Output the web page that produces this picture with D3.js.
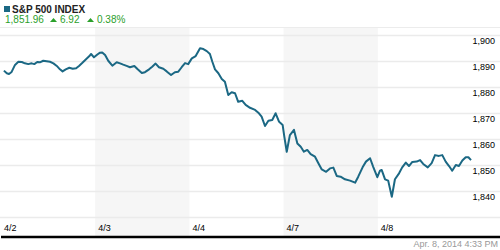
<!DOCTYPE html>
<html>
<head>
<meta charset="utf-8">
<script src="https://cdn.jsdelivr.net/npm/d3@7"></script>
<style>
  body { margin: 0; background: #fff; }
  svg { display: block; font-family: Arial, "Liberation Sans", sans-serif; }
</style>
</head>
<body>
<svg id="chart"></svg>
<script>
// trading sessions shown on the x axis
var sessions = ["4/2", "4/3", "4/4", "4/7", "4/8"];

// intraday readings: [minutes after the open, index level]
var apr2 = [[12,1886.3],[24,1885.3],[33,1885.0],[44,1885.8],[58,1888.5],[72,1889.7],[86,1889.6],
  [99,1889.1],[113,1888.8],[127,1889.1],[138,1888.8],[150,1889.6],[161,1889.5],[175,1890.1],
  [189,1889.9],[203,1889.7],[217,1889.1],[231,1888.1],[244,1886.8],[255,1886.0],[268,1886.8],
  [283,1887.4],[297,1887.0],[311,1887.2],[323,1888.1],[337,1889.3],[352,1890.7],[366,1891.9],
  [373,1892.7],[385,1891.4]];
var apr3 = [[9,1892.5],[20,1893.2],[29,1893.3],[41,1892.3],[54,1890.1],[71,1888.2],[89,1889.5],
  [103,1889.1],[116,1888.6],[130,1888.1],[144,1887.6],[162,1888.1],[176,1886.8],[193,1885.4],
  [206,1885.7],[223,1886.8],[236,1887.8],[250,1889.0],[264,1887.6],[282,1887.0],[296,1886.0],
  [314,1884.6],[330,1885.7],[344,1885.9],[358,1887.6],[372,1889.2],[385,1888.8]];
var apr4 = [[10,1891.0],[26,1891.9],[44,1894.9],[58,1894.6],[72,1893.8],[85,1892.7],[95,1889.7],
  [106,1886.8],[120,1885.3],[134,1883.1],[147,1882.0],[161,1876.9],[175,1878.0],[189,1877.6],
  [202,1874.3],[219,1874.7],[233,1873.1],[251,1872.0],[272,1871.2],[288,1869.9],[299,1868.6],
  [313,1865.0],[327,1867.0],[343,1867.3],[357,1869.9],[371,1866.7],[375,1866.3],[386,1865.4]];
var apr7 = [[3,1860.9],[13,1855.1],[26,1861.5],[43,1863.5],[57,1858.3],[71,1857.0],[84,1855.1],
  [98,1855.8],[112,1854.2],[130,1853.2],[144,1850.7],[158,1848.3],[176,1847.4],[192,1848.7],
  [206,1849.0],[220,1845.8],[236,1845.5],[254,1844.5],[275,1844.0],[296,1843.2],[309,1845.5],
  [327,1849.1],[341,1851.3],[358,1852.6],[371,1849.3],[388,1845.3]];
var apr8 = [[9,1847.8],[16,1848.1],[30,1844.5],[43,1844.0],[58,1837.8],[71,1844.5],[88,1846.8],
  [101,1849.1],[116,1850.9],[129,1849.6],[143,1851.2],[161,1851.3],[175,1851.9],[188,1850.4],
  [207,1849.1],[223,1850.7],[237,1853.8],[253,1853.5],[267,1853.8],[281,1851.3],[295,1849.6],
  [308,1847.8],[323,1850.0],[336,1849.6],[350,1851.7],[364,1853.0],[375,1853.0],[386,1851.9]];

var yTicks = [1840, 1850, 1860, 1870, 1880, 1890, 1900];
var gridLevels = [1830, 1840, 1850, 1860, 1870, 1880, 1890, 1900];

var lastValue = "1,851.96", change = "6.92", changePct = "0.38%";
var stamp = "Apr. 8, 2014 4:33 PM";

var width = 500, height = 250;
var lineColor = "#1b6884", green = "#2ba02b";
var sessionMinutes = 390;

var svg = d3.select("#chart").attr("width", width).attr("height", height);

var points = [];
[apr2, apr3, apr4, apr7, apr8].forEach(function(day, i) {
  day.forEach(function(d) {
    points.push({t: i + d[0] / sessionMinutes, v: d[1]});
  });
});

var x = d3.scaleLinear().domain([0, sessions.length]).range([1, 472]);
var y = d3.scaleLinear().domain([1830, 1900]).range([217, 35]);

var plotTop = 27, axisY = 237;

// alternate shaded sessions
svg.selectAll("rect.band")
  .data(sessions.filter(function(s, i) { return i % 2 == 1; }))
  .enter().append("rect")
  .attr("class", "band")
  .attr("x", function(s) { return x(sessions.indexOf(s)); })
  .attr("width", function(s) { return x(1) - x(0); })
  .attr("y", plotTop)
  .attr("height", axisY - plotTop)
  .attr("fill", "#f6f6f6");

// top border and gridlines
svg.append("line")
  .attr("x1", 0).attr("x2", width)
  .attr("y1", plotTop + 0.5).attr("y2", plotTop + 0.5)
  .attr("stroke", "#ececec");

svg.selectAll("line.grid")
  .data(gridLevels)
  .enter().append("line")
  .attr("class", "grid")
  .attr("x1", 0).attr("x2", width)
  .attr("y1", function(d) { return Math.round(y(d)) + 0.5; })
  .attr("y2", function(d) { return Math.round(y(d)) + 0.5; })
  .attr("stroke", "#ebebeb")
  .attr("stroke-width", 1.5);

// y labels on the right
svg.selectAll("text.ylab")
  .data(yTicks)
  .enter().append("text")
  .attr("class", "ylab")
  .attr("x", 495)
  .attr("y", function(d) { return y(d) + 9; })
  .attr("text-anchor", "end")
  .attr("font-size", 9)
  .attr("fill", "#000")
  .text(d3.format(","));

// session labels
svg.selectAll("text.xlab")
  .data(sessions)
  .enter().append("text")
  .attr("class", "xlab")
  .attr("x", function(s, i) { return x(i) + 3; })
  .attr("y", 231)
  .attr("font-size", 9)
  .attr("fill", "#000")
  .text(function(s) { return s; });

// bottom axis line
svg.append("line")
  .attr("x1", 1).attr("x2", width)
  .attr("y1", axisY).attr("y2", axisY)
  .attr("stroke", "#000")
  .attr("stroke-width", 2.5);

// the index line
var line = d3.line()
  .x(function(d) { return x(d.t); })
  .y(function(d) { return y(d.v); });

svg.append("path")
  .datum(points)
  .attr("d", line)
  .attr("fill", "none")
  .attr("stroke", lineColor)
  .attr("stroke-width", 2)
  .attr("stroke-linejoin", "round");

// header
svg.append("rect")
  .attr("x", 4).attr("y", 6).attr("width", 6).attr("height", 6)
  .attr("fill", lineColor);

svg.append("text")
  .attr("x", 12).attr("y", 12.5)
  .attr("font-size", 10).attr("font-weight", "bold")
  .attr("fill", "#222")
  .text("S&P 500 INDEX");

var tri = function(cx) {
  return "M" + (cx - 3.5) + ",22 L" + (cx + 3.5) + ",22 L" + cx + ",18 Z";
};

svg.append("text").attr("x", 5).attr("y", 23)
  .attr("font-size", 10).attr("fill", green).text(lastValue);
svg.append("path").attr("d", tri(53.5)).attr("fill", green);
svg.append("text").attr("x", 60).attr("y", 23)
  .attr("font-size", 10).attr("fill", green).text(change);
svg.append("path").attr("d", tri(90.5)).attr("fill", green);
svg.append("text").attr("x", 97).attr("y", 23)
  .attr("font-size", 10).attr("fill", green).text(changePct);

// timestamp
svg.append("text")
  .attr("x", 498).attr("y", 247)
  .attr("text-anchor", "end")
  .attr("font-size", 9)
  .attr("fill", "#999")
  .text(stamp);
</script>
</body>
</html>
